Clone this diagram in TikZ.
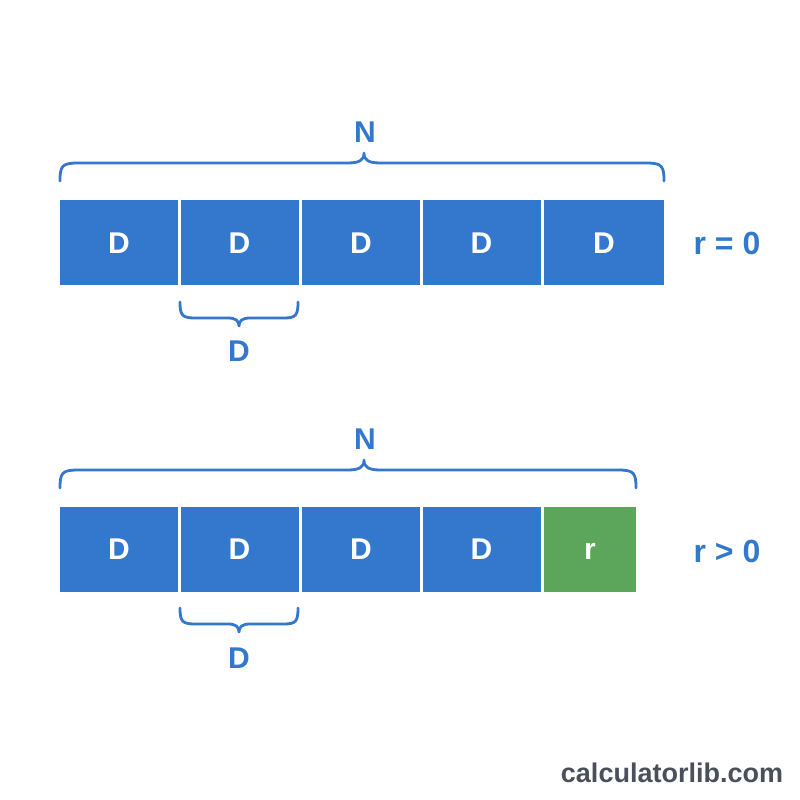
\documentclass[tikz,border=0pt]{standalone}
\usepackage{fontspec}
\setmainfont{Liberation Sans}
\definecolor{cblue}{HTML}{3378CC}
\definecolor{cgreen}{HTML}{5BA65A}
\definecolor{cgray}{HTML}{4A4F5A}
\begin{document}
\begin{tikzpicture}[x=1pt,y=-1pt,
  cell/.style={fill=cblue,draw=none,minimum width=118pt,minimum height=85pt,inner sep=0pt,
    text=white,font=\fontsize{30}{33}\selectfont\bfseries,text height=21.5pt,text depth=0pt},
  rcell/.style={cell,fill=cgreen,minimum width=92pt},
  lbl/.style={text=cblue,font=\fontsize{30}{33}\selectfont\bfseries,inner sep=0pt},
  rlbl/.style={lbl,font=\fontsize{32}{35}\selectfont\bfseries},
  brc/.style={draw=cblue,line width=2.8pt,line cap=round,line join=round}]
\useasboundingbox (0,0) rectangle (800,800);
\fill[white] (0,0) rectangle (800,800);
% top row
\node[cell] (a1) at (119,242.5) {D};
\node[cell] (a2) at (239.5,242.5) {D};
\node[cell] (a3) at (361,242.5) {D};
\node[cell] (a4) at (481.5,242.5) {D};
\node[cell,minimum width=120pt] (a5) at (604,242.5) {D};
\node[rlbl] (ra) at (727,243) {r = 0};
\node[lbl] (na) at (365,132) {N};
\node[lbl] (da) at (239,351) {D};
\draw[brc] (60,181) .. controls (60,166) and (62,163) .. (78,163) -- (347,163) .. controls (360,163) and (364,160) .. (364,153) .. controls (364,160) and (368,163) .. (381,163) -- (646,163) .. controls (662,163) and (664,166) .. (664,181);
\draw[brc] (180,302) .. controls (180,315) and (182,318) .. (195,318) -- (228,318) .. controls (236,318) and (239,321) .. (239,326) .. controls (239,321) and (242,318) .. (250,318) -- (284,318) .. controls (296,318) and (298,315) .. (298,302);
% bottom row
\node[cell] (b1) at (119,549) {D};
\node[cell] (b2) at (239.5,549) {D};
\node[cell] (b3) at (361,549) {D};
\node[cell] (b4) at (481.5,549) {D};
\node[rcell] (b5) at (590,549) {r};
\node[rlbl] (rb) at (727,551) {r > 0};
\node[lbl] (nb) at (365,439) {N};
\node[lbl] (db) at (239,658) {D};
\draw[brc] (60,488) .. controls (60,473) and (62,470) .. (78,470) -- (347,470) .. controls (360,470) and (364,467) .. (364,460) .. controls (364,467) and (368,470) .. (381,470) -- (618,470) .. controls (634,470) and (636,473) .. (636,488);
\draw[brc] (180,608) .. controls (180,621) and (182,624) .. (195,624) -- (228,624) .. controls (236,624) and (239,627) .. (239,632) .. controls (239,627) and (242,624) .. (250,624) -- (284,624) .. controls (296,624) and (298,621) .. (298,608);
\node[text=cgray,font=\fontsize{27}{30}\selectfont\bfseries,inner sep=0pt] (logo) at (672,773) {calculatorlib.com};
\end{tikzpicture}
\end{document}
